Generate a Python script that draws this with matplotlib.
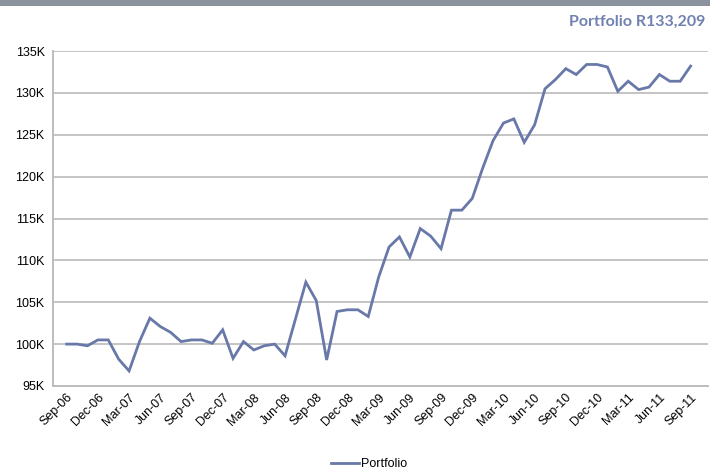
import matplotlib
matplotlib.use('Agg')
import matplotlib.pyplot as plt
from matplotlib.patches import Rectangle
from matplotlib.ticker import FuncFormatter

# Monthly portfolio value, Sep-06 .. Sep-11 (in thousands of Rand)
months = ['Sep-06', 'Oct-06', 'Nov-06', 'Dec-06', 'Jan-07', 'Feb-07', 'Mar-07', 'Apr-07', 'May-07',
          'Jun-07', 'Jul-07', 'Aug-07', 'Sep-07', 'Oct-07', 'Nov-07', 'Dec-07', 'Jan-08', 'Feb-08',
          'Mar-08', 'Apr-08', 'May-08', 'Jun-08', 'Jul-08', 'Aug-08', 'Sep-08', 'Oct-08', 'Nov-08',
          'Dec-08', 'Jan-09', 'Feb-09', 'Mar-09', 'Apr-09', 'May-09', 'Jun-09', 'Jul-09', 'Aug-09',
          'Sep-09', 'Oct-09', 'Nov-09', 'Dec-09', 'Jan-10', 'Feb-10', 'Mar-10', 'Apr-10', 'May-10',
          'Jun-10', 'Jul-10', 'Aug-10', 'Sep-10', 'Oct-10', 'Nov-10', 'Dec-10', 'Jan-11', 'Feb-11',
          'Mar-11', 'Apr-11', 'May-11', 'Jun-11', 'Jul-11', 'Aug-11', 'Sep-11']
portfolio = [100.0, 100.0, 99.8, 100.5, 100.5, 98.2, 96.8, 100.3, 103.1, 102.1, 101.4, 100.3,
             100.5, 100.5, 100.1, 101.7, 98.3, 100.3, 99.3, 99.8, 100.0, 98.6, 103.0, 107.4,
             105.2, 98.1, 103.9, 104.1, 104.1, 103.3, 108.0, 111.6, 112.8, 110.4, 113.8, 112.9,
             111.4, 116.0, 116.0, 117.4, 121.0, 124.3, 126.4, 126.9, 124.1, 126.2, 130.5, 131.6,
             132.9, 132.2, 133.4, 133.4, 133.1, 130.2, 131.4, 130.4, 130.7, 132.2, 131.4, 131.4,
             133.209]
yticks = [95, 100, 105, 110, 115, 120, 125, 130, 135]

line_color = '#6878a8'
grid_color = '#c4c4c4'

fig = plt.figure(figsize=(7.10, 4.73), dpi=100)

# grey band across the top
fig.patches.append(Rectangle((0, 0.988), 1, 0.012, transform=fig.transFigure,
                             facecolor='#8a939d', edgecolor='none'))
fig.text(0.993, 0.953, 'Portfolio R%s' % format(round(portfolio[-1] * 1000), ','),
         ha='right', va='center', fontsize=11.5, fontweight='bold', color='#7080b0',
         family='Lato')

ax = fig.add_axes([0.0746, 0.184, 0.9224, 0.708])
x = list(range(len(portfolio)))
ax.plot(x, portfolio, color=line_color, linewidth=2.0, label='Portfolio', solid_joinstyle='miter')

ax.set_ylim(95, 135)
ax.set_xlim(-1.32, 61.66)
ax.set_yticks(yticks)
ax.yaxis.set_major_formatter(FuncFormatter(lambda v, p: '%dK' % v))
ax.set_xticks(x[::3])
ax.set_xticklabels(months[::3], rotation=45, ha='right', rotation_mode='anchor')
ax.grid(axis='y', color=grid_color, linewidth=1.4)
ax.set_axisbelow(True)
for s in ['top', 'right']:
    ax.spines[s].set_visible(False)
for s in ['left', 'bottom']:
    ax.spines[s].set_color('#bdbdbd')
    ax.spines[s].set_linewidth(1.4)
ax.tick_params(axis='both', length=0, labelsize=9, colors='black')
ax.tick_params(axis='y', pad=6)
ax.tick_params(axis='x', pad=4)
for lab in ax.get_xticklabels() + ax.get_yticklabels():
    lab.set_family('Liberation Sans')

fig.legend(loc='center', bbox_to_anchor=(0.52, 0.018), frameon=False,
           prop={'family': 'Liberation Sans', 'size': 9}, handlelength=2.2, handletextpad=0.2)

fig.savefig('out.png', dpi=100)
